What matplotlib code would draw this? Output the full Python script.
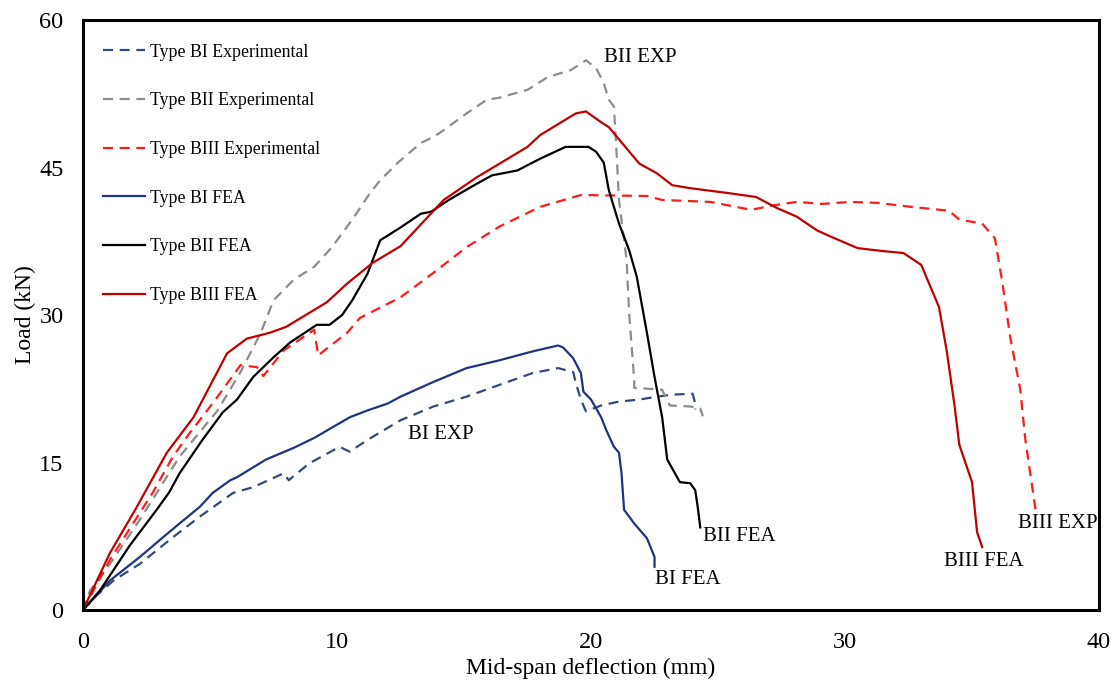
import matplotlib
matplotlib.use("Agg")
import matplotlib.pyplot as plt

plt.rcParams['font.family'] = ['Liberation Serif', 'DejaVu Serif']

# ---- data (mid-span deflection mm, load kN) ----
bi_exp_x = [0, 0.5, 1.2, 2.24, 3.54, 4.6, 5.9, 6.7, 7.9, 8.1, 8.9, 10.1, 10.5, 11.2, 12.5,
            13.8, 15.1, 16.4, 17.7, 18.7, 19.3, 19.4, 19.6, 19.8, 20.4, 21.1, 21.9, 22.6,
            23.2, 24.0, 24.1, 24.1]
bi_exp_y = [0, 1.4, 3.0, 4.7, 7.4, 9.5, 11.9, 12.5, 13.9, 13.2, 14.9, 16.6, 16.1, 17.3, 19.3,
            20.7, 21.7, 22.9, 24.1, 24.6, 24.2, 23.1, 21.4, 20.2, 20.8, 21.2, 21.4, 21.7,
            21.9, 22.0, 21.0, 20.4]

bii_exp_x = [0, 0.28, 1.2, 2.24, 3.8, 5.3, 6.2, 7.0, 7.5, 8.3, 9.1, 9.8, 10.6, 11.3, 11.7,
             12.4, 13.3, 13.8, 14.2, 15.1, 15.9, 16.4, 17.5, 18.3, 19.2, 19.8, 20.2, 20.5,
             20.7, 20.9, 21.0, 21.1, 21.4, 21.5, 21.7, 21.7, 22.8, 23.1, 23.9, 24.3, 24.4]
bii_exp_y = [0, 2.0, 5.2, 9.2, 15.6, 20.3, 24.2, 28.2, 31.5, 33.6, 34.9, 36.9, 39.7, 42.4, 43.7,
             45.5, 47.5, 48.1, 48.8, 50.5, 51.9, 52.1, 52.9, 54.2, 54.9, 55.9, 55.1, 53.6,
             51.9, 51.2, 46.8, 41.7, 35.6, 30.2, 23.4, 22.6, 22.4, 20.8, 20.7, 20.5, 19.7]

biii_exp_x = [0, 1.06, 2.24, 2.76, 3.54, 4.2, 5.1, 6.2, 6.85, 7.1, 7.9, 9.1, 9.26, 10.4, 10.9,
              12.5, 13.8, 15.1, 16.4, 18.0, 19.6, 22.2, 22.8, 24.7, 26.3, 27.3, 28.1, 29.1,
              30.2, 31.3, 32.6, 34.1, 34.5, 35.4, 35.9, 36.2, 36.5, 36.9, 37.1, 37.5]
biii_exp_y = [0, 5.1, 9.9, 12.0, 15.6, 18.0, 21.0, 24.9, 24.7, 23.8, 26.4, 28.5, 25.9, 28.2, 29.7,
              31.8, 34.3, 36.9, 39.0, 41.0, 42.2, 42.1, 41.7, 41.5, 40.7, 41.2, 41.5, 41.3,
              41.5, 41.4, 41.0, 40.6, 39.7, 39.3, 37.8, 33.2, 27.8, 22.4, 17.3, 10.2]

bi_fea_x = [0, 1.06, 2.24, 3.15, 3.8, 4.6, 5.1, 5.8, 6.06, 7.2, 8.3, 9.1, 10.5, 11.2, 12.0,
            12.5, 13.8, 15.1, 16.4, 17.7, 18.7, 18.9, 19.3, 19.6, 19.7, 20.0, 20.4, 20.6,
            20.9, 21.1, 21.2, 21.3, 21.7, 22.2, 22.5, 22.5]
bi_fea_y = [0, 3.0, 5.4, 7.4, 8.8, 10.5, 11.9, 13.2, 13.5, 15.3, 16.5, 17.5, 19.6, 20.3, 21.0,
            21.7, 23.2, 24.6, 25.4, 26.3, 26.9, 26.7, 25.6, 24.1, 22.2, 21.4, 19.6, 18.3,
            16.6, 16.0, 13.9, 10.2, 8.8, 7.3, 5.4, 4.4]

bii_fea_x = [0, 0.67, 1.85, 2.9, 3.4, 3.8, 4.7, 5.5, 6.06, 6.7, 7.5, 8.15, 9.2, 9.7, 10.2,
             10.6, 11.2, 11.7, 12.5, 13.3, 13.7, 14.4, 15.4, 16.1, 17.1, 18.0, 19.0, 19.9,
             20.2, 20.5, 20.7, 21.1, 21.5, 21.8, 22.2, 22.5, 22.8, 23.0, 23.5, 23.9, 24.1,
             24.2, 24.3]
bii_fea_y = [0, 2.0, 6.6, 10.2, 12.0, 13.9, 17.3, 20.1, 21.4, 23.7, 25.7, 27.2, 29.0, 29.0, 30.0,
             31.5, 34.2, 37.6, 38.9, 40.3, 40.5, 41.7, 43.2, 44.2, 44.7, 45.9, 47.1, 47.1,
             46.6, 45.5, 42.7, 39.3, 36.6, 33.9, 28.2, 23.7, 19.6, 15.3, 13.0, 12.9, 12.2,
             10.5, 8.4]

biii_fea_x = [0, 1.06, 2.1, 3.3, 4.35, 5.67, 6.45, 7.36, 8.0, 9.6, 10.4, 11.4, 12.5, 14.2,
              15.5, 17.5, 18.0, 19.4, 19.8, 20.4, 20.7, 21.9, 22.6, 23.2, 23.9, 25.4, 26.5,
              27.3, 28.1, 28.9, 29.5, 30.5, 31.5, 32.3, 33.0, 33.7, 34.0, 34.3, 34.5, 35.0,
              35.2, 35.4]
biii_fea_y = [0, 5.8, 10.4, 16.0, 19.6, 26.1, 27.6, 28.2, 28.8, 31.3, 33.2, 35.3, 37.0, 41.7,
              44.0, 47.1, 48.3, 50.5, 50.7, 49.6, 49.1, 45.4, 44.4, 43.2, 42.9, 42.4, 42.0,
              40.9, 40.0, 38.6, 37.9, 36.8, 36.5, 36.3, 35.1, 30.8, 26.4, 21.0, 16.8, 13.0,
              7.9, 6.4]

labels = ["Type BI Experimental", "Type BII Experimental", "Type BIII Experimental",
          "Type BI FEA", "Type BII FEA", "Type BIII FEA"]

annot_text = ["BII EXP", "BI EXP", "BII FEA", "BI FEA", "BIII FEA", "BIII EXP"]
annot_x = [20.5, 12.8, 24.4, 22.5, 33.9, 36.8]
annot_y = [56.2, 17.8, 7.5, 3.1, 4.9, 8.8]

x_ticks = [0, 10, 20, 30, 40]
y_ticks = [0, 15, 30, 45, 60]

# ---- plot ----
fig = plt.figure(figsize=(11.16, 6.8), dpi=100)
ax = fig.add_axes([0.0744, 0.1029, 0.9104, 0.8677])

dash = (0, (4.5, 3))
lw = 1.6
ax.plot(bi_exp_x, bi_exp_y, color='#2F4A7C', lw=lw, linestyle=dash, label=labels[0])
ax.plot(bii_exp_x, bii_exp_y, color='#8C8C8C', lw=lw, linestyle=dash, label=labels[1])
ax.plot(biii_exp_x, biii_exp_y, color='#FF1A1A', lw=lw, linestyle=dash, label=labels[2])
ax.plot(bi_fea_x, bi_fea_y, color='#1F3480', lw=lw, label=labels[3])
ax.plot(bii_fea_x, bii_fea_y, color='#000000', lw=lw, label=labels[4])
ax.plot(biii_fea_x, biii_fea_y, color='#C00000', lw=lw, label=labels[5])

for t, x, y in zip(annot_text, annot_x, annot_y):
    ax.text(x, y, t, fontsize=15, va='center', ha='left', color='black')

ax.set_xlim(0, 40)
ax.set_ylim(0, 60)
ax.set_xticks(x_ticks)
ax.set_yticks(y_ticks)
ax.tick_params(length=0, labelsize=17.5, pad=14)
ax.tick_params(axis='x', pad=16)
for s in ax.spines.values():
    s.set_linewidth(2.2)
    s.set_color('black')

ax.set_xlabel("Mid-span deflection (mm)", fontsize=17, labelpad=3)
ax.set_ylabel("Load (kN)", fontsize=17, labelpad=2)

leg = ax.legend(loc='upper left', frameon=False, fontsize=12.8, handlelength=2.35,
                handletextpad=0.3, labelspacing=1.78, borderaxespad=0.0,
                bbox_to_anchor=(0.013, 0.972))

fig.savefig("out.png", dpi=100)
